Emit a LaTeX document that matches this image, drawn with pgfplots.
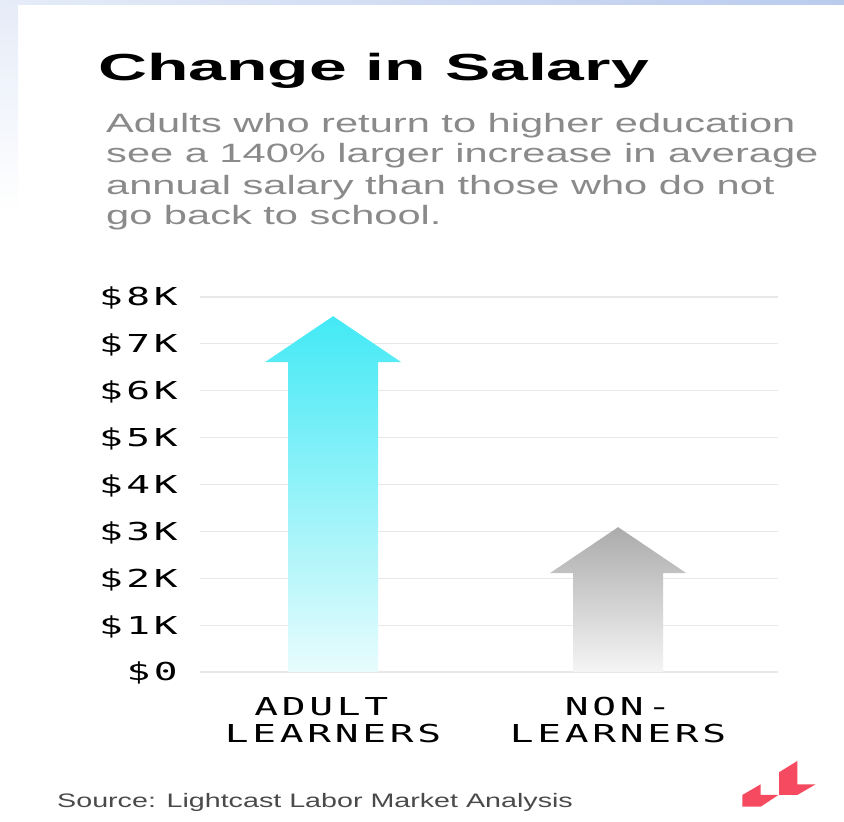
\documentclass[border=0pt]{standalone}
\usepackage{fontspec}
\usepackage{pgfplots}
\pgfplotsset{compat=1.18}
\setmainfont{Liberation Sans}
\newfontfamily\titlefont{Liberation Sans}[FakeStretch=1.8]
\newfontfamily\subfont{Liberation Sans}[FakeStretch=1.57]
\newfontfamily\srcfont{Liberation Sans}[FakeStretch=1.47]
\newfontfamily\tickfont{DejaVu Sans Mono}[FakeStretch=1.6, LetterSpace=15]
\definecolor{cyantop}{HTML}{42E9F5}
\definecolor{cyanbot}{HTML}{E8FCFD}
\definecolor{graytop}{HTML}{ABABAB}
\definecolor{graybot}{HTML}{F5F5F5}
\definecolor{gridc}{HTML}{E8E8E8}
\definecolor{subc}{HTML}{8A8A8A}
\definecolor{srcc}{HTML}{4A4A4A}
\definecolor{logored}{HTML}{F54A5F}
\definecolor{frameA}{HTML}{E6ECF8}
\definecolor{frameB}{HTML}{BACBEE}
\begin{document}
\begin{tikzpicture}
\path[use as bounding box] (0pt,0pt) rectangle (844pt,822pt);
\fill[white] (0pt,0pt) rectangle (844pt,822pt);
\fill[left color=frameA, right color=frameB] (0pt,817pt) rectangle (844pt,822pt);
\fill[top color=frameA, bottom color=white] (0pt,610pt) rectangle (18pt,817pt);
\begin{axis}[
  at={(200pt,150pt)}, anchor=south west,
  scale only axis, width=578pt, height=375pt,
  xmin=-0.467, xmax=1.561, ymin=0, ymax=8,
  axis line style={draw=none},
  major tick length=0pt,
  ytick={0,1,...,8},
  yticklabels={\$0,\$1K,\$2K,\$3K,\$4K,\$5K,\$6K,\$7K,\$8K},
  xtick={0,1},
  xticklabels={ADULT\hphantom{X}\\LEARNERS,NON-\\LEARNERS},
  ymajorgrids, grid style={gridc, line width=1.1pt},
  yticklabel style={font=\tickfont\fontsize{24.7}{27}\selectfont, anchor=east, inner sep=0pt, text height=18pt, text depth=0pt},
  yticklabel shift=22pt,
  xticklabel style={font=\tickfont\fontsize{24.7}{27}\selectfont, anchor=north, inner sep=0pt, align=center},
  xticklabel shift=25pt,
  clip=false,
]
% Adult learners: value 7.59K (arrow tip), head base 6.61K
\addplot[draw=none, top color=cyantop, bottom color=cyanbot] coordinates {
  (-0.158,0) (0.158,0) (0.158,6.61) (0.239,6.61) (0,7.59) (-0.239,6.61) (-0.158,6.61)
} -- cycle;
% Non-learners: value 3.09K (arrow tip), head base 2.11K
\addplot[draw=none, top color=graytop, bottom color=graybot] coordinates {
  (0.842,0) (1.158,0) (1.158,2.11) (1.239,2.11) (1,3.09) (0.761,2.11) (0.842,2.11)
} -- cycle;
\end{axis}
\node[anchor=base west, inner sep=0pt] at (98pt,741pt) {\titlefont\bfseries\fontsize{37.7}{40}\selectfont Change in Salary};
\node[anchor=base west, inner sep=0pt, text=subc] at (106pt,689pt) {\subfont\fontsize{26.5}{31}\selectfont Adults who return to higher education};
\node[anchor=base west, inner sep=0pt, text=subc] at (106pt,659pt) {\subfont\fontsize{26.5}{31}\selectfont see a 140\% larger increase in average};
\node[anchor=base west, inner sep=0pt, text=subc] at (106pt,627pt) {\subfont\fontsize{26.5}{31}\selectfont annual salary than those who do not};
\node[anchor=base west, inner sep=0pt, text=subc] at (106pt,597pt) {\subfont\fontsize{26.5}{31}\selectfont go back to school.};
\node[anchor=base west, inner sep=0pt, text=srcc] at (57pt,14pt) {\srcfont\fontsize{19.5}{22}\selectfont Source: Lightcast Labor Market Analysis};
\fill[logored] (742.3pt,15.3pt) -- (742.3pt,27pt) -- (760.7pt,37.7pt) -- (760.7pt,27pt) -- (778.3pt,27pt) -- (760.7pt,15.3pt) -- cycle;
\fill[logored] (779pt,27pt) -- (779pt,49.7pt) -- (797.3pt,61pt) -- (797.3pt,37.7pt) -- (815.7pt,37.7pt) -- (797.3pt,27pt) -- cycle;
\end{tikzpicture}
\end{document}
